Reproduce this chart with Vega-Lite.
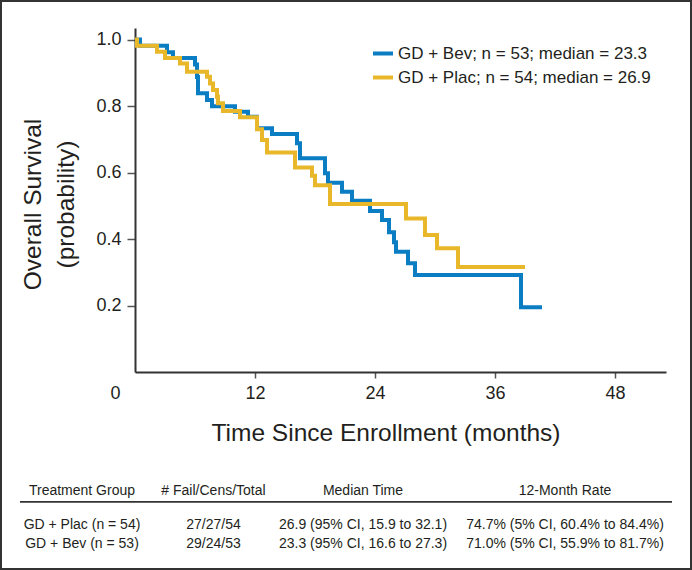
{
  "$schema": "https://vega.github.io/schema/vega-lite/v6.json",
  "width": 690,
  "height": 568,
  "padding": 1,
  "autosize": {"type": "none"},
  "background": "white",
  "config": {"view": {"stroke": "#333333", "strokeWidth": 2}},
  "layer": [
    {
      "data": {"values": [
        {"group": "GD + Bev; n = 53; median = 23.3", "t": 0, "s": 1.0},
        {"group": "GD + Bev; n = 53; median = 23.3", "t": 0.5, "s": 0.981},
        {"group": "GD + Bev; n = 53; median = 23.3", "t": 3.2, "s": 0.962},
        {"group": "GD + Bev; n = 53; median = 23.3", "t": 3.8, "s": 0.944},
        {"group": "GD + Bev; n = 53; median = 23.3", "t": 6.0, "s": 0.925},
        {"group": "GD + Bev; n = 53; median = 23.3", "t": 6.2, "s": 0.887},
        {"group": "GD + Bev; n = 53; median = 23.3", "t": 6.3, "s": 0.838},
        {"group": "GD + Bev; n = 53; median = 23.3", "t": 7.2, "s": 0.818},
        {"group": "GD + Bev; n = 53; median = 23.3", "t": 7.7, "s": 0.799},
        {"group": "GD + Bev; n = 53; median = 23.3", "t": 10.0, "s": 0.783},
        {"group": "GD + Bev; n = 53; median = 23.3", "t": 11.3, "s": 0.768},
        {"group": "GD + Bev; n = 53; median = 23.3", "t": 12.2, "s": 0.733},
        {"group": "GD + Bev; n = 53; median = 23.3", "t": 13.7, "s": 0.716},
        {"group": "GD + Bev; n = 53; median = 23.3", "t": 16.2, "s": 0.688},
        {"group": "GD + Bev; n = 53; median = 23.3", "t": 16.5, "s": 0.643},
        {"group": "GD + Bev; n = 53; median = 23.3", "t": 19.0, "s": 0.598},
        {"group": "GD + Bev; n = 53; median = 23.3", "t": 19.3, "s": 0.569},
        {"group": "GD + Bev; n = 53; median = 23.3", "t": 20.7, "s": 0.542},
        {"group": "GD + Bev; n = 53; median = 23.3", "t": 21.7, "s": 0.515},
        {"group": "GD + Bev; n = 53; median = 23.3", "t": 23.5, "s": 0.484},
        {"group": "GD + Bev; n = 53; median = 23.3", "t": 24.7, "s": 0.457},
        {"group": "GD + Bev; n = 53; median = 23.3", "t": 25.4, "s": 0.42},
        {"group": "GD + Bev; n = 53; median = 23.3", "t": 25.9, "s": 0.39},
        {"group": "GD + Bev; n = 53; median = 23.3", "t": 26.1, "s": 0.362},
        {"group": "GD + Bev; n = 53; median = 23.3", "t": 27.3, "s": 0.327},
        {"group": "GD + Bev; n = 53; median = 23.3", "t": 28.0, "s": 0.292},
        {"group": "GD + Bev; n = 53; median = 23.3", "t": 38.6, "s": 0.195},
        {"group": "GD + Bev; n = 53; median = 23.3", "t": 40.7, "s": 0.195},
        {"group": "GD + Plac; n = 54; median = 26.9", "t": 0, "s": 1.0},
        {"group": "GD + Plac; n = 54; median = 26.9", "t": 0.2, "s": 0.981},
        {"group": "GD + Plac; n = 54; median = 26.9", "t": 2.2, "s": 0.963},
        {"group": "GD + Plac; n = 54; median = 26.9", "t": 3.0, "s": 0.944},
        {"group": "GD + Plac; n = 54; median = 26.9", "t": 4.5, "s": 0.928},
        {"group": "GD + Plac; n = 54; median = 26.9", "t": 5.2, "s": 0.903},
        {"group": "GD + Plac; n = 54; median = 26.9", "t": 7.2, "s": 0.888},
        {"group": "GD + Plac; n = 54; median = 26.9", "t": 7.5, "s": 0.868},
        {"group": "GD + Plac; n = 54; median = 26.9", "t": 7.8, "s": 0.848},
        {"group": "GD + Plac; n = 54; median = 26.9", "t": 8.2, "s": 0.828},
        {"group": "GD + Plac; n = 54; median = 26.9", "t": 8.3, "s": 0.808},
        {"group": "GD + Plac; n = 54; median = 26.9", "t": 8.8, "s": 0.785},
        {"group": "GD + Plac; n = 54; median = 26.9", "t": 10.5, "s": 0.766},
        {"group": "GD + Plac; n = 54; median = 26.9", "t": 12.2, "s": 0.73},
        {"group": "GD + Plac; n = 54; median = 26.9", "t": 12.7, "s": 0.698},
        {"group": "GD + Plac; n = 54; median = 26.9", "t": 13.2, "s": 0.66},
        {"group": "GD + Plac; n = 54; median = 26.9", "t": 16.0, "s": 0.615},
        {"group": "GD + Plac; n = 54; median = 26.9", "t": 17.7, "s": 0.59},
        {"group": "GD + Plac; n = 54; median = 26.9", "t": 18.0, "s": 0.562},
        {"group": "GD + Plac; n = 54; median = 26.9", "t": 19.5, "s": 0.505},
        {"group": "GD + Plac; n = 54; median = 26.9", "t": 27.1, "s": 0.462},
        {"group": "GD + Plac; n = 54; median = 26.9", "t": 29.0, "s": 0.412},
        {"group": "GD + Plac; n = 54; median = 26.9", "t": 30.2, "s": 0.372},
        {"group": "GD + Plac; n = 54; median = 26.9", "t": 32.3, "s": 0.316},
        {"group": "GD + Plac; n = 54; median = 26.9", "t": 39.0, "s": 0.316}
      ]},
      "encoding": {
        "x": {
          "field": "t", "type": "quantitative",
          "scale": {"domain": [0, 53.1], "range": [134, 665], "nice": false, "zero": false},
          "axis": {
            "orient": "bottom", "offset": -197, "values": [0, 12, 24, 36, 48], "grid": false,
            "domainColor": "#333333", "domainWidth": 2,
            "tickColor": "#555555", "tickWidth": 1.5, "tickSize": 6,
            "tickOpacity": {"condition": {"test": "datum.value === 0", "value": 0}, "value": 1},
            "labelOffset": {"condition": {"test": "datum.value === 0", "value": -20}, "value": 0},
            "labelFont": "Liberation Sans", "labelFontSize": 18, "labelColor": "#231f20",
            "labelPadding": 6, "labelFlush": false, "labelOverlap": false,
            "title": "Time Since Enrollment (months)",
            "titleFont": "Liberation Sans", "titleFontSize": 24.5,
            "titleFontWeight": "normal", "titleColor": "#231f20",
            "titleX": 384.5, "titleY": 68, "titleAlign": "center", "titleBaseline": "alphabetic"
          }
        },
        "y": {
          "field": "s", "type": "quantitative",
          "scale": {"domain": [0, 1.0346], "range": [371, 27], "nice": false, "zero": false},
          "axis": {
            "orient": "left", "offset": -134, "values": [0.2, 0.4, 0.6, 0.8, 1.0], "format": ".1f",
            "grid": false, "domainColor": "#333333", "domainWidth": 2,
            "tickColor": "#555555", "tickWidth": 1.5, "tickSize": 8,
            "labelFont": "Liberation Sans", "labelFontSize": 18, "labelColor": "#231f20", "labelPadding": 6,
            "title": ["Overall Survival", "(probability)"],
            "titleFont": "Liberation Sans", "titleFontSize": 24.5,
            "titleFontWeight": "normal", "titleColor": "#231f20",
            "titleAngle": -90, "titleAlign": "center", "titleBaseline": "top",
            "titleX": -114, "titleY": 203, "titleLineHeight": 33
          }
        },
        "color": {
          "field": "group", "type": "nominal",
          "scale": {
            "domain": ["GD + Bev; n = 53; median = 23.3", "GD + Plac; n = 54; median = 26.9"],
            "range": ["#0b7dc3", "#e8b82a"]
          },
          "legend": {
            "orient": "none", "legendX": 370, "legendY": 40.5, "title": null,
            "symbolType": "stroke", "symbolSize": 400, "symbolStrokeWidth": 4,
            "labelFont": "Liberation Sans", "labelFontSize": 17, "labelColor": "#231f20",
            "labelOffset": 3, "rowPadding": 4, "padding": 0, "labelLimit": 400
          }
        }
      },
      "layer": [
        {
          "transform": [{"filter": "datum.group === 'GD + Bev; n = 53; median = 23.3'"}],
          "mark": {"type": "line", "interpolate": "step-after", "strokeWidth": 4, "strokeCap": "butt", "strokeJoin": "miter"}
        },
        {
          "transform": [{"filter": "datum.group === 'GD + Plac; n = 54; median = 26.9'"}],
          "mark": {"type": "line", "interpolate": "step-after", "strokeWidth": 4, "strokeCap": "butt", "strokeJoin": "miter"}
        }
      ]
    },
    {
      "data": {"values": [
        {"row": 0, "col": 1, "text": "Treatment Group"},
        {"row": 0, "col": 2, "text": "# Fail/Cens/Total"},
        {"row": 0, "col": 3, "text": "Median Time"},
        {"row": 0, "col": 4, "text": "12-Month Rate"},
        {"row": 1, "col": 1, "text": "GD + Plac (n = 54)"},
        {"row": 1, "col": 2, "text": "27/27/54"},
        {"row": 1, "col": 3, "text": "26.9 (95% CI, 15.9 to 32.1)"},
        {"row": 1, "col": 4, "text": "74.7% (5% CI, 60.4% to 84.4%)"},
        {"row": 2, "col": 1, "text": "GD + Bev (n = 53)"},
        {"row": 2, "col": 2, "text": "29/24/53"},
        {"row": 2, "col": 3, "text": "23.3 (95% CI, 16.6 to 27.3)"},
        {"row": 2, "col": 4, "text": "71.0% (5% CI, 55.9% to 81.7%)"}
      ]},
      "layer": [
        {
          "mark": {"type": "text", "align": "center", "baseline": "alphabetic",
                   "font": "Liberation Sans", "fontSize": 14, "color": "#231f20"},
          "encoding": {
            "x": {"field": "col", "type": "quantitative", "axis": null,
                  "scale": {"domain": [0.5, 1, 2, 3, 4, 4.5], "range": [19, 81, 212.5, 362, 564, 671], "nice": false, "zero": false}},
            "y": {"field": "row", "type": "quantitative", "axis": null,
                  "scale": {"domain": [0, 0.5, 1, 2], "range": [494, 500.8, 528.3, 546.7], "nice": false, "zero": false}},
            "text": {"field": "text", "type": "nominal"}
          }
        },
        {
          "data": {"values": [{}]},
          "mark": {"type": "rule", "color": "#333333", "strokeWidth": 1.7},
          "encoding": {
            "x": {"datum": 0.5, "type": "quantitative", "axis": null},
            "x2": {"datum": 4.5},
            "y": {"datum": 0.5, "type": "quantitative", "axis": null}
          }
        }
      ]
    }
  ],
  "resolve": {"scale": {"x": "independent", "y": "independent"}}
}
